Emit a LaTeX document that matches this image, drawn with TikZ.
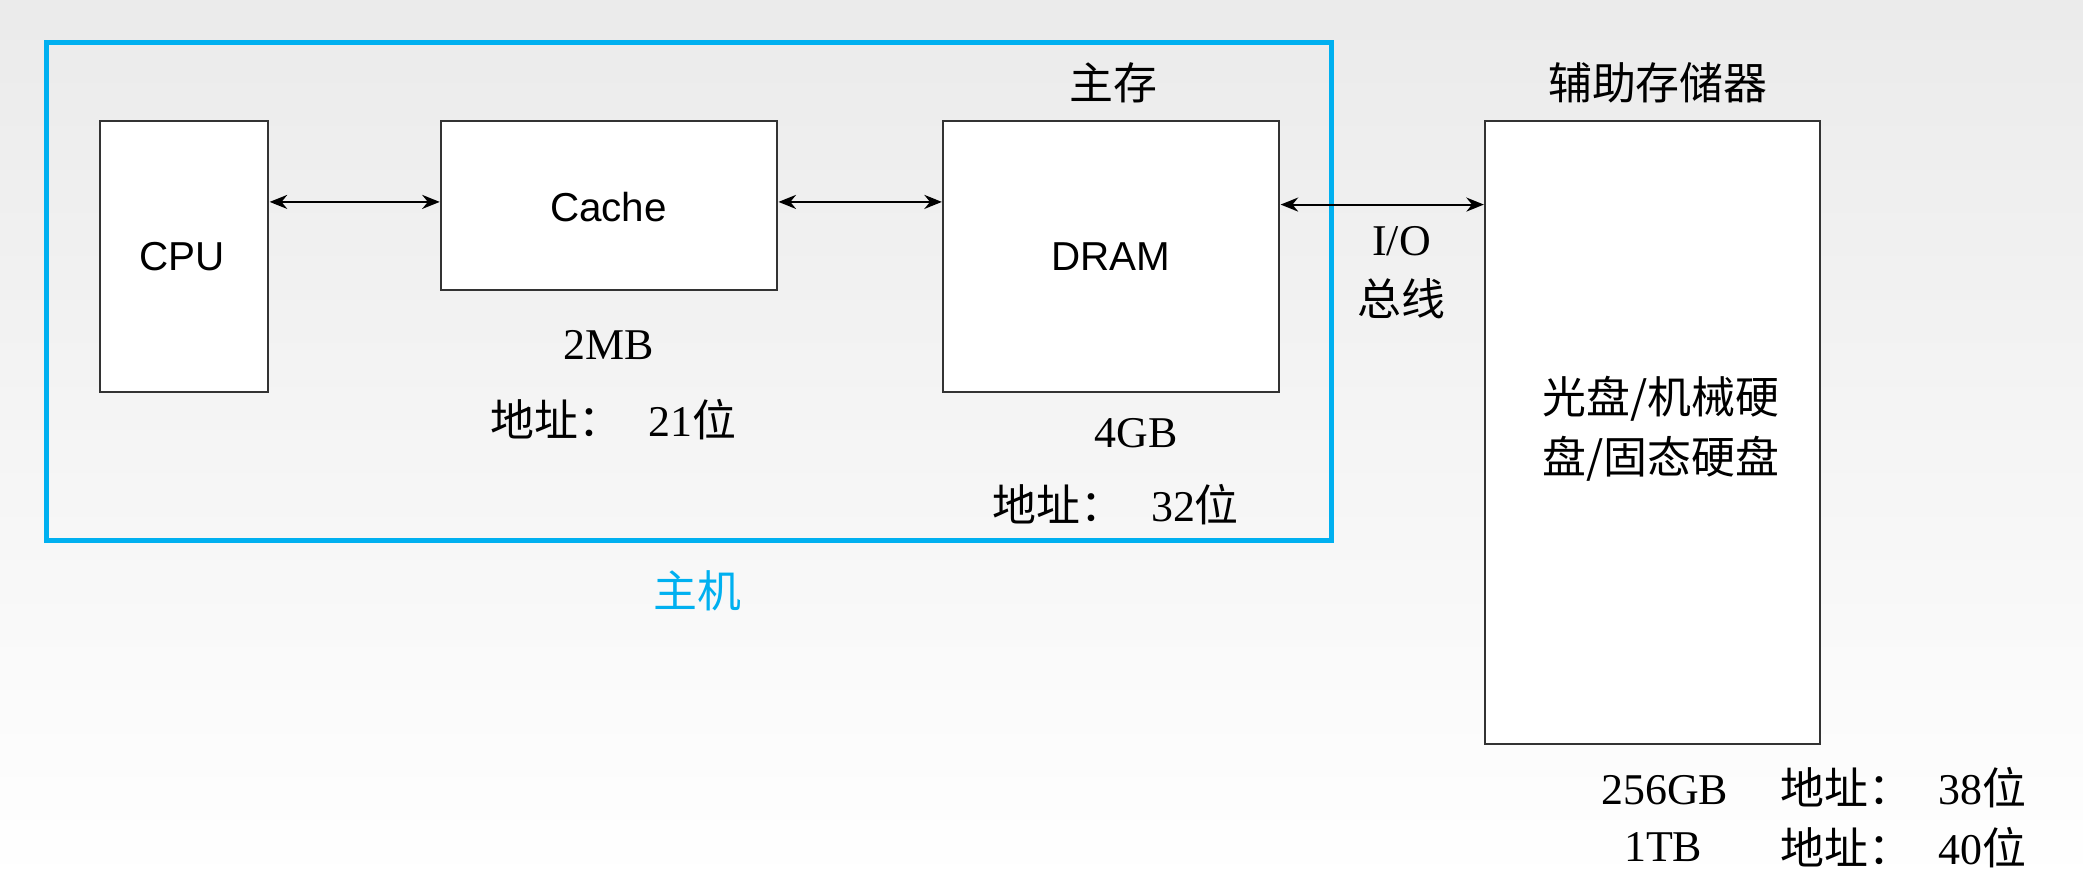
\documentclass[tikz,border=0pt]{standalone}
\usepackage{fontspec}
\setmainfont{Liberation Serif}
\setsansfont{Liberation Sans}
\newfontfamily\cjk{Noto Sans CJK SC}
\usetikzlibrary{arrows.meta}
\begin{document}
\begin{tikzpicture}[x=0.013285cm,y=-0.013285cm,
  box/.style={draw=black!80,line width=0.6pt},
  arr/.style={{Stealth[length=5pt,width=4pt]}-{Stealth[length=5pt,width=4pt]},line width=0.6pt},
  lat/.style={font=\sffamily\fontsize{11.5}{13}\selectfont},
  ser/.style={font=\fontsize{12.5}{15}\selectfont},
  zh/.style={font=\cjk\fontsize{12.5}{17}\selectfont,align=center}]
\shade[top color=black!8,bottom color=white] (0,0) rectangle (1568,666);
\useasboundingbox (0,0) rectangle (1568,666);
\definecolor{cy}{RGB}{0,176,240}
\draw[cy,line width=1.4pt] (35,32) rectangle (1002,407);
\draw[box,fill=white] (75,91) rectangle (202,295);
\node[lat] (cpu) at (137,193) {CPU};
\draw[box,fill=white] (332,91) rectangle (585,218);
\node[lat] (cache) at (458,156) {Cache};
\draw[box,fill=white] (710,91) rectangle (963,295);
\node[lat] (dram) at (836,193) {DRAM};
\draw[box,fill=white] (1118,91) rectangle (1370,560);
\coordinate (a1) at (203,152); \coordinate (a2) at (331,152);
\coordinate (b1) at (586,152); \coordinate (b2) at (709,152);
\coordinate (c1) at (964,154); \coordinate (c2) at (1117,154);
\draw[arr] (a1) -- (a2);
\draw[arr] (b1) -- (b2);
\draw[arr] (c1) -- (c2);
\node[zh] (zc) at (838,62) {主存};
\node[zh] (fz) at (1248,62) {辅助存储器};
\node[zh] (io) at (1055,205) {{\fontsize{12.5}{15}\rmfamily I/O}\\总线};
\node[zh] (gp) at (1250,323) {光盘/机械硬\\盘/固态硬盘};
\node[ser] (m2) at (458,260) {2MB};
\node[zh] (ad1) at (462,316) {地址：\hspace{0.6em}{\rmfamily 21}位};
\node[ser] (g4) at (855,326) {4GB};
\node[zh] (ad2) at (840,380) {地址：\hspace{0.6em}{\rmfamily 32}位};
\node[zh,text=cy] (zj) at (525,445) {主机};
\node[zh,anchor=east] (l1) at (1535,593) {{\rmfamily 256GB}\hspace{1.2em}地址：\hspace{0.6em}{\rmfamily 38}位};
\node[zh,anchor=east] (l2) at (1535,638) {地址：\hspace{0.6em}{\rmfamily 40}位};
\node[ser] (tb) at (1252,638) {1TB};
\end{tikzpicture}
\end{document}
